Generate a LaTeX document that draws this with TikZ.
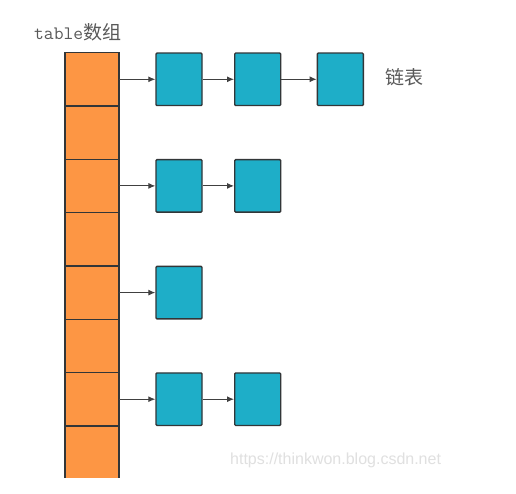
\documentclass[tikz,border=0pt]{standalone}
\usepackage{fontspec}
\newfontfamily\cjkfont{Noto Sans CJK SC}
\newfontfamily\markfont{Liberation Sans}
\usetikzlibrary{arrows.meta}
\definecolor{cellOrange}{RGB}{253,150,68}
\definecolor{listBlue}{RGB}{30,174,200}
\definecolor{borderGray}{RGB}{50,54,56}
\begin{document}
\begin{tikzpicture}
[x=1pt,y=-1pt,
cell/.style={rectangle,draw=borderGray,fill=cellOrange,line width=1.4pt,minimum width=54pt,minimum height=53.3pt,inner sep=0pt,outer sep=0pt},
entry/.style={rectangle,draw=borderGray,fill=listBlue,line width=1.4pt,rounded corners=1pt,minimum width=46pt,minimum height=52.5pt,inner sep=0pt},
link/.style={-{Latex[length=7pt,width=6pt]},line width=1pt,draw=black!75},
caption/.style={text=black!65,inner sep=0pt,anchor=west,font=\fontsize{19}{21}\selectfont},
watermark/.style={text=black!12,inner sep=0pt,anchor=west,font=\markfont\fontsize{16}{18}\selectfont}]
\fill[white] (0,0) rectangle (516,494);
\useasboundingbox (0,0) rectangle (516,494);

\begin{scope}
\clip (0,0) rectangle (516,477.5);
\node[cell] (a1) at (92,79.3) {};
\node[cell] (a2) at (92,132.6) {};
\node[cell] (a3) at (92,185.9) {};
\node[cell] (a4) at (92,239.2) {};
\node[cell] (a5) at (92,292.6) {};
\node[cell] (a6) at (92,345.9) {};
\node[cell] (a7) at (92,399.2) {};
\node[cell] (a8) at (92,452.5) {};
\end{scope}

\node[entry] (b11) at (179,79.3) {};
\node[entry] (b12) at (257.7,79.3) {};
\node[entry] (b13) at (340.3,79.3) {};
\node[entry] (b31) at (179,185.9) {};
\node[entry] (b32) at (257.7,185.9) {};
\node[entry] (b51) at (179,292.6) {};
\node[entry] (b71) at (179,399.2) {};
\node[entry] (b72) at (257.7,399.2) {};

\draw[link] (a1) -- (b11);
\draw[link] (b11) -- (b12);
\draw[link] (b12) -- (b13);
\draw[link] (a3) -- (b31);
\draw[link] (b31) -- (b32);
\draw[link] (a5) -- (b51);
\draw[link] (a7) -- (b71);
\draw[link] (b71) -- (b72);

\node[caption] (arrayLabel) at (34,32) {\ttfamily table\cjkfont 数组};
\node[caption] (listLabel) at (385,77) {\cjkfont 链表};
\node[watermark] (mark) at (230,460) {https://thinkwon.blog.csdn.net};
\end{tikzpicture}
\end{document}
